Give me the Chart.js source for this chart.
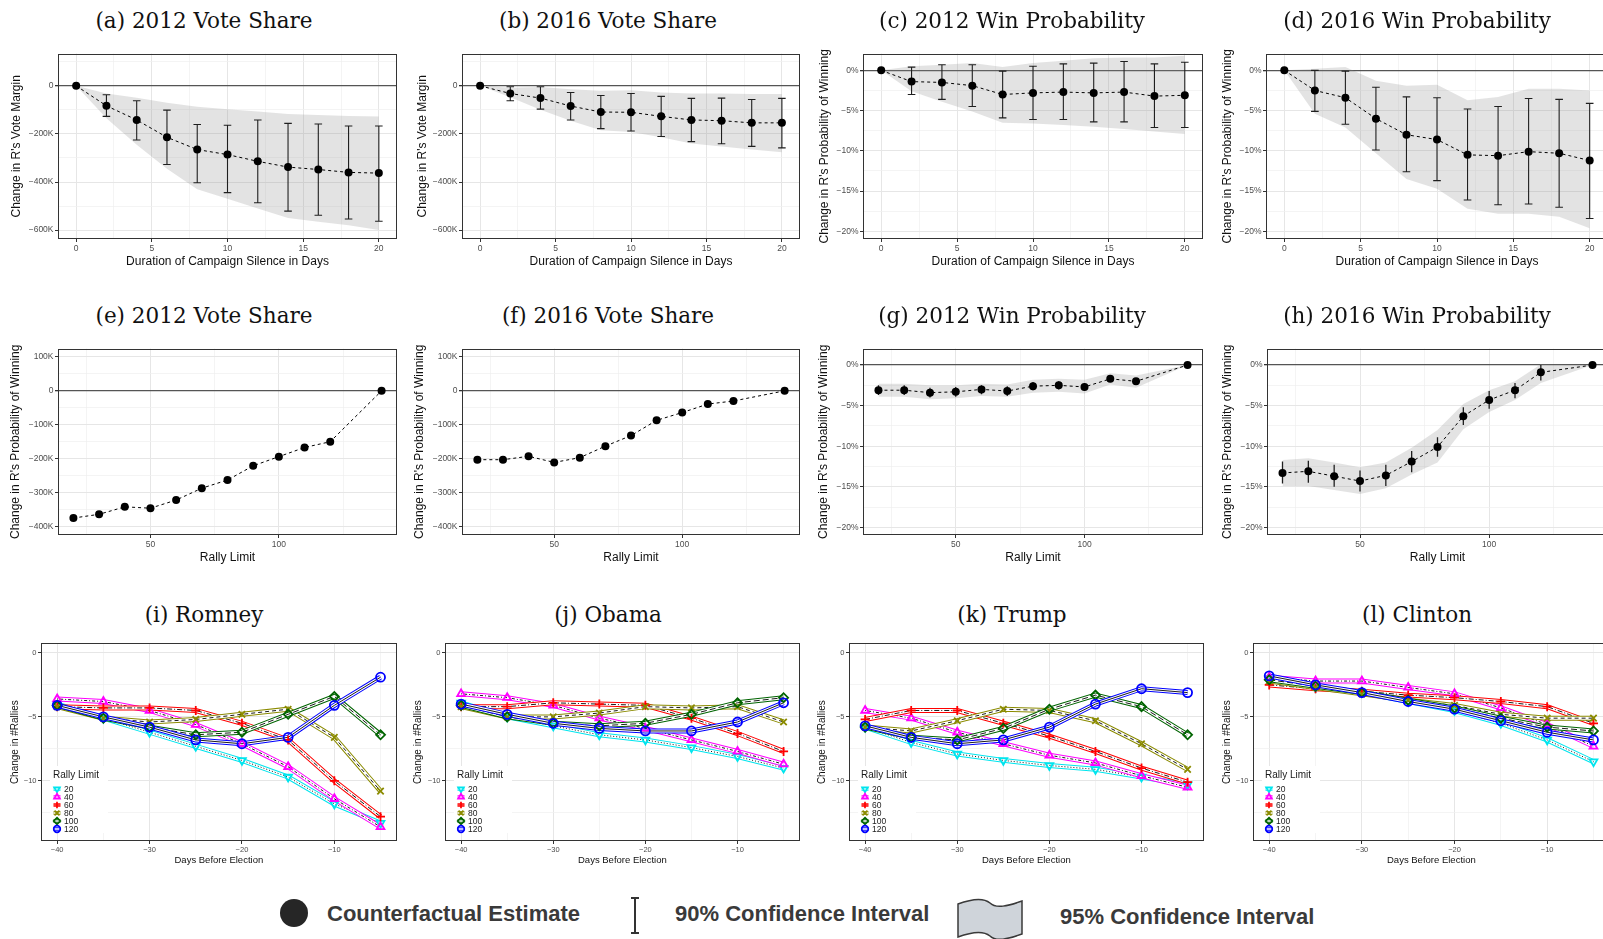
<!DOCTYPE html>
<html>
<head>
<meta charset="utf-8">
<title>Campaign silence and rally limits</title>
<script src="https://cdn.jsdelivr.net/npm/chart.js@4.4.1/dist/chart.umd.min.js"></script>
<style>
  html, body { margin: 0; padding: 0; background: #fff; }
  body { width: 1603px; height: 939px; overflow: hidden; position: relative; }
  canvas { position: absolute; }
  .ptitle { position: absolute; font-family: 'DejaVu Serif', serif; font-size: 21.5px; color: #111;
            transform: translate(-50%, -50%); white-space: nowrap; }
  .key { position: absolute; font-family: 'Liberation Sans', Arial, sans-serif; font-weight: bold;
         font-size: 22px; color: #3a3a3a; transform: translateY(-50%); white-space: nowrap; }
  svg { position: absolute; }
</style>
</head>
<body>
<div id="fig"></div>

<svg style="left:279px;top:898px" width="30" height="30"><circle cx="15" cy="15" r="14" fill="#262626"/></svg>
<span class="key" style="left:327px;top:914px">Counterfactual Estimate</span>
<svg style="left:628px;top:896px" width="14" height="40">
  <path d="M7 2 V37 M3 2 H11 M3 37 H11" stroke="#333" stroke-width="2" fill="none"/>
</svg>
<span class="key" style="left:675px;top:914px">90% Confidence Interval</span>
<svg style="left:956px;top:898px" width="68" height="42">
  <path d="M2 6 C18 0 28 0 34 5 C40 11 52 8 66 3 L66 36 C52 41 40 44 34 38 C28 33 18 33 2 39 Z"
        fill="#cfd4da" stroke="#3a3a3a" stroke-width="1.5"/>
</svg>
<span class="key" style="left:1060px;top:917px">95% Confidence Interval</span>

<script>
// ---------- data: campaign silence (rows 1) ----------
const silenceDays = [0, 2, 4, 6, 8, 10, 12, 14, 16, 18, 20];

// (a) 2012 vote margin
const vote12Silence    = [0, -83000, -142000, -214000, -265000, -286000, -314000, -338000, -348000, -360000, -363000];
const vote12Silence90Hi = [0, -37000, -62000, -101000, -161000, -164000, -142000, -156000, -159000, -167000, -167000];
const vote12Silence90Lo = [0, -127000, -225000, -327000, -403000, -444000, -486000, -521000, -538000, -554000, -563000];
const vote12Silence95Hi = [0, -32000, -50000, -70000, -87000, -97000, -107000, -117000, -121000, -125000, -128000];
const vote12Silence95Lo = [0, -135000, -245000, -345000, -430000, -470000, -510000, -550000, -565000, -580000, -600000];

// (b) 2016 vote margin
const vote16Silence    = [0, -32000, -51000, -84000, -109000, -110000, -127000, -142000, -145000, -154000, -154000];
const vote16Silence90Hi = [0, -4000, -4000, -28000, -40000, -32000, -44000, -52000, -51000, -57000, -52000];
const vote16Silence90Lo = [0, -62000, -97000, -142000, -178000, -188000, -211000, -232000, -241000, -252000, -258000];
const vote16Silence95Hi = [0, -8000, -5000, -14000, -21000, -18000, -28000, -32000, -32000, -34000, -34000];
const vote16Silence95Lo = [0, -48000, -100000, -145000, -185000, -192000, -214000, -240000, -252000, -265000, -276000];

// (c) 2012 win probability (%)
const win12Silence    = [0, -1.4, -1.5, -1.9, -3.0, -2.8, -2.7, -2.8, -2.7, -3.2, -3.1];
const win12Silence90Hi = [0, 0.4, 0.7, 0.7, -0.1, 0.5, 0.8, 0.9, 1.1, 0.8, 1.0];
const win12Silence90Lo = [0, -3.0, -3.6, -4.5, -5.9, -6.1, -6.1, -6.4, -6.4, -7.1, -7.1];
const win12Silence95Hi = [0, 0.5, 0.7, 0.9, 0.4, 0.9, 1.2, 1.5, 1.6, 1.6, 1.8];
const win12Silence95Lo = [0, -2.6, -3.9, -5.1, -6.5, -6.6, -6.8, -7.0, -7.3, -7.6, -7.9];

// (d) 2016 win probability (%)
const win16Silence    = [0, -2.5, -3.4, -6.0, -8.0, -8.6, -10.5, -10.6, -10.1, -10.3, -11.2];
const win16Silence90Hi = [0, 0.0, -0.1, -2.1, -3.3, -3.4, -4.8, -4.5, -3.5, -3.6, -4.1];
const win16Silence90Lo = [0, -5.1, -6.7, -9.9, -12.6, -13.7, -16.1, -16.7, -16.6, -17.0, -18.4];
const win16Silence95Hi = [0, 0.2, 0.4, -1.3, -1.9, -1.8, -3.7, -3.3, -2.3, -2.3, -2.5];
const win16Silence95Lo = [0, -5.4, -7.1, -10.3, -13.5, -14.7, -17.2, -17.8, -17.8, -18.2, -19.6];

// ---------- data: rally limit (row 2) ----------
const rallyLimits = [20, 30, 40, 50, 60, 70, 80, 90, 100, 110, 120, 140];
const vote12Limit = [-375000, -364000, -342000, -346000, -322000, -287000, -263000, -221000, -194000, -167000, -150000, 0];
const vote16Limit = [-203000, -203000, -193000, -211000, -197000, -163000, -132000, -87000, -64000, -39000, -30000, 0];
const win12Limit     = [-3.1, -3.1, -3.4, -3.3, -3.0, -3.2, -2.6, -2.5, -2.7, -1.7, -2.0, 0];
const win12Limit90Hi = [-2.5, -2.5, -2.8, -2.7, -2.5, -2.6, -2.1, -2.0, -2.2, -1.3, -1.6, 0];
const win12Limit90Lo = [-3.7, -3.7, -4.0, -3.9, -3.6, -3.8, -3.1, -3.0, -3.2, -2.1, -2.4, 0];
const win12Limit95Hi = [-2.3, -2.3, -2.5, -2.5, -2.3, -2.4, -1.8, -1.7, -1.8, -1.0, -1.3, 0];
const win12Limit95Lo = [-3.9, -3.9, -4.2, -4.1, -3.8, -3.9, -3.4, -3.3, -3.5, -2.4, -2.8, 0];
const win16Limit     = [-13.3, -13.1, -13.7, -14.3, -13.6, -11.9, -10.1, -6.3, -4.3, -3.1, -0.9, 0];
const win16Limit90Hi = [-11.9, -11.8, -12.3, -13.0, -12.3, -10.6, -8.9, -5.2, -3.2, -2.2, 0.0, 0];
const win16Limit90Lo = [-14.6, -14.5, -15.0, -15.6, -14.9, -13.2, -11.3, -7.4, -5.4, -4.1, -1.9, 0];
const win16Limit95Hi = [-11.7, -11.5, -12.0, -12.6, -12.0, -10.2, -8.0, -4.8, -3.1, -2.0, 0.1, 0];
const win16Limit95Lo = [-14.9, -14.9, -15.4, -15.9, -15.2, -13.5, -12.0, -7.9, -5.8, -4.3, -2.2, 0];

// ---------- data: change in #rallies (row 3), one row per rally limit ----------
const daysBefore = [-40, -35, -30, -25, -20, -15, -10, -5];
const rallyLevels = ['20', '40', '60', '80', '100', '120'];
const romneyRallies = [
  [-4.0, -5.1, -6.2, -7.3, -8.4, -9.7, -11.8, -13.3],
  [-3.6, -3.8, -4.5, -5.6, -7.1, -8.9, -11.4, -13.6],
  [-4.2, -4.3, -4.3, -4.5, -5.5, -6.8, -10.0, -12.8],
  [-4.2, -5.1, -5.4, -5.2, -4.8, -4.4, -6.6, -10.8],
  [-4.1, -5.1, -5.8, -6.4, -6.2, -4.8, -3.4, -6.4],
  [-4.1, -5.0, -5.8, -6.8, -7.1, -6.6, -4.1, -1.9]
];
const obamaRallies = [
  [-3.9, -5.0, -5.7, -6.4, -6.8, -7.4, -8.1, -9.0],
  [-3.2, -3.5, -4.1, -5.1, -5.9, -6.8, -7.7, -8.7],
  [-4.2, -4.2, -3.9, -4.0, -4.1, -5.1, -6.3, -7.7],
  [-4.2, -5.0, -5.0, -4.7, -4.2, -4.3, -4.2, -5.4],
  [-4.1, -5.0, -5.5, -5.7, -5.5, -4.8, -3.9, -3.5],
  [-4.0, -4.8, -5.5, -5.9, -6.1, -6.1, -5.4, -3.9]
];
const trumpRallies = [
  [-5.8, -7.0, -7.9, -8.4, -8.8, -9.1, -9.7, -10.3],
  [-4.5, -5.1, -6.2, -7.1, -8.0, -8.6, -9.6, -10.5],
  [-5.2, -4.5, -4.5, -5.5, -6.5, -7.7, -9.0, -10.1],
  [-5.8, -6.1, -5.3, -4.4, -4.5, -5.3, -7.1, -9.1],
  [-5.8, -6.6, -6.8, -5.9, -4.4, -3.3, -4.2, -6.4],
  [-5.7, -6.6, -7.1, -6.8, -5.8, -4.0, -2.8, -3.1]
];
const clintonRallies = [
  [-2.0, -2.7, -3.1, -3.8, -4.5, -5.5, -6.8, -8.5],
  [-1.9, -2.2, -2.2, -2.7, -3.2, -4.3, -5.6, -7.3],
  [-2.5, -2.8, -3.0, -3.3, -3.5, -3.8, -4.2, -5.5],
  [-2.2, -2.7, -3.2, -3.7, -4.1, -4.8, -5.1, -5.1],
  [-2.1, -2.6, -3.1, -3.7, -4.3, -5.1, -5.8, -6.1],
  [-1.8, -2.5, -3.1, -3.8, -4.4, -5.3, -6.2, -6.8]
];

// ---------- tick values (major ones get labels) ----------
const silenceTicks = [0, 2.5, 5, 7.5, 10, 12.5, 15, 17.5, 20];
const silenceMajor = [0, 5, 10, 15, 20];
const limitTicks = [25, 50, 75, 100, 125];
const limitMajor = [50, 100];
const dayTicks = [-40, -35, -30, -25, -20, -15, -10, -5];
const dayMajor = [-40, -30, -20, -10];
const voteTicks = [100000, 0, -100000, -200000, -300000, -400000, -500000, -600000];
const voteMajor = [0, -200000, -400000, -600000];
const limitVoteTicks = [100000, 50000, 0, -50000, -100000, -150000, -200000, -250000, -300000, -350000, -400000];
const limitVoteMajor = [100000, 0, -100000, -200000, -300000, -400000];
const pctTicks = [0, -2.5, -5, -7.5, -10, -12.5, -15, -17.5, -20];
const pctMajor = [0, -5, -10, -15, -20];
const countTicks = [0, -2.5, -5, -7.5, -10, -12.5];
const countMajor = [0, -5, -10];

// ---------- styling ----------
Chart.defaults.font.family = "'Liberation Sans', Arial, sans-serif";
const MINUS = '\u2212';
const fmtNum = v => (v < 0 ? MINUS : '') + Math.abs(v);
const fmtK = v => v === 0 ? '0' : (v < 0 ? MINUS : '') + Math.abs(v / 1000) + 'K';
const fmtPct = v => (v < 0 ? MINUS : '') + Math.abs(v) + '%';
const ribbonFill = 'rgba(140,140,140,0.24)';
const PAD = 6;

const rallySeries = [
  { color: '#00e5ee', shape: 'triangle', rot: 180, dash: [1, 2] },
  { color: '#ff00ff', shape: 'triangle', rot: 0, dash: [1, 2, 3, 2] },
  { color: '#ff0000', shape: 'cross', rot: 0, dash: [5, 2, 1, 2] },
  { color: '#8b8b00', shape: 'crossRot', rot: 0, dash: [4, 3] },
  { color: '#006400', shape: 'rectRot', rot: 0, dash: [6, 3] },
  { color: '#0000ff', shape: 'circle', rot: 0, dash: [] }
];

// frame around each panel, like ggplot's panel border
const panelFrame = {
  id: 'panelFrame',
  afterDraw(chart) {
    const { ctx, chartArea: a } = chart;
    ctx.save();
    ctx.strokeStyle = '#333';
    ctx.lineWidth = 1;
    ctx.strokeRect(Math.round(a.left) + 0.5, Math.round(a.top) + 0.5,
                   Math.round(a.right - a.left) - 1, Math.round(a.bottom - a.top) - 1);
    ctx.restore();
  }
};

function drawMarker(ctx, shape, rot, x, y, r) {
  ctx.beginPath();
  if (shape === 'circle') {
    ctx.arc(x, y, r, 0, Math.PI * 2);
  } else if (shape === 'triangle') {
    const s = rot ? -1 : 1;
    ctx.moveTo(x, y - s * r);
    ctx.lineTo(x + r * 0.87, y + s * r * 0.5);
    ctx.lineTo(x - r * 0.87, y + s * r * 0.5);
    ctx.closePath();
  } else if (shape === 'rectRot') {
    ctx.moveTo(x, y - r); ctx.lineTo(x + r, y); ctx.lineTo(x, y + r); ctx.lineTo(x - r, y); ctx.closePath();
  } else if (shape === 'cross') {
    ctx.moveTo(x - r, y); ctx.lineTo(x + r, y); ctx.moveTo(x, y - r); ctx.lineTo(x, y + r);
  } else {
    const d = r * 0.75;
    ctx.moveTo(x - d, y - d); ctx.lineTo(x + d, y + d); ctx.moveTo(x + d, y - d); ctx.lineTo(x - d, y + d);
  }
  ctx.stroke();
}

// "Rally Limit" key inside the bottom-left corner of the row-3 panels
const rallyLegend = {
  id: 'rallyLegend',
  afterDatasetsDraw(chart, args, opts) {
    if (!opts.show) return;
    const { ctx, chartArea: a } = chart;
    const left = a.left + 9, top = a.bottom - 75;
    ctx.save();
    ctx.fillStyle = '#fff';
    ctx.fillRect(left, top, 58, 67);
    ctx.fillStyle = '#1a1a1a';
    ctx.textBaseline = 'middle';
    ctx.font = "10px 'Liberation Sans', Arial, sans-serif";
    ctx.fillText('Rally Limit', a.left + 12, a.bottom - 66);
    ctx.font = "8.5px 'Liberation Sans', Arial, sans-serif";
    rallySeries.forEach((s, i) => {
      const y = a.bottom - 52 + i * 8;
      const x = a.left + 16;
      ctx.strokeStyle = s.color; ctx.lineWidth = 3.5;
      ctx.beginPath(); ctx.moveTo(x - 3.5, y); ctx.lineTo(x + 3.5, y); ctx.stroke();
      ctx.strokeStyle = '#fff'; ctx.lineWidth = 1.5;
      ctx.beginPath(); ctx.moveTo(x - 3.5, y); ctx.lineTo(x + 3.5, y); ctx.stroke();
      ctx.strokeStyle = s.color; ctx.lineWidth = 1.7;
      drawMarker(ctx, s.shape, s.rot, x, y, 3.3);
      ctx.fillStyle = '#1a1a1a';
      ctx.fillText(rallyLevels[i], a.left + 23, y + 0.5);
    });
    ctx.restore();
  }
};

Chart.register(panelFrame, rallyLegend);

// ---------- layout of the twelve panels ----------
const rows = [
  { plotTop: 53, plotBottom: 239, axisBottom: 269, titleY: 20 },
  { plotTop: 348, plotBottom: 535, axisBottom: 565, titleY: 315 },
  { plotTop: 643, plotBottom: 841, axisBottom: 866, titleY: 614 }
];
const titleCenters = [204, 608, 1012, 1417];

function makeCanvas(geo) {
  const c = document.createElement('canvas');
  const top = geo.plotTop - PAD;
  c.width = geo.plotRight - geo.cell + PAD;
  c.height = geo.axisBottom - top;
  c.style.left = geo.cell + 'px';
  c.style.top = top + 'px';
  document.getElementById('fig').appendChild(c);
  return c;
}

function addTitle(text, x, y) {
  const d = document.createElement('div');
  d.className = 'ptitle';
  d.textContent = text;
  d.style.left = x + 'px';
  d.style.top = y + 'px';
  document.body.appendChild(d);
}

function gridFor(major, zeroLine) {
  const isZero = c => zeroLine && c.tick && c.tick.value === 0;
  const isMajor = c => c.tick && major.includes(c.tick.value);
  return {
    color: c => isZero(c) ? '#555' : (isMajor(c) ? '#e6e6e6' : '#efefef'),
    lineWidth: c => isZero(c) ? 1.3 : (isMajor(c) ? 1 : 0.7),
    tickColor: c => isMajor(c) ? '#333' : 'rgba(0,0,0,0)',
    tickLength: 3,
    drawTicks: true
  };
}

function scaleOptions(axis, geo, horizontal) {
  const lh = axis.titleSize * 1.2;
  return {
    type: 'linear', min: axis.min, max: axis.max, bounds: 'data',
    afterBuildTicks: s => { s.ticks = axis.ticks.map(v => ({ value: v })); },
    afterFit: s => {
      if (horizontal) s.height = geo.axisBottom - geo.plotBottom;
      else s.width = geo.plotLeft - geo.cell;
    },
    ticks: {
      autoSkip: false, maxRotation: 0, padding: 1.5, color: '#4d4d4d',
      font: { size: axis.tickSize },
      callback: v => axis.major.includes(v) ? axis.fmt(v) : ''
    },
    grid: gridFor(axis.major, !!axis.zeroLine),
    border: { display: false },
    title: {
      display: true, text: axis.title, color: '#111', font: { size: axis.titleSize },
      padding: horizontal ? { top: 0, bottom: 0 } : { top: geo.yTitleX - geo.cell - lh / 2, bottom: 0 }
    }
  };
}

function baseOptions(geo, xAxis, yAxis, legend) {
  return {
    responsive: false, animation: false, events: [],
    layout: { padding: { top: PAD, right: PAD, left: 0, bottom: 0 } },
    plugins: { legend: { display: false }, tooltip: { enabled: false }, rallyLegend: { show: legend } },
    scales: { x: scaleOptions(xAxis, geo, true), y: scaleOptions(yAxis, geo, false) }
  };
}

function errorBarPoints(xs, hi, lo, cap) {
  const out = [];
  xs.forEach((x, i) => {
    out.push({ x, y: lo[i] }, { x, y: hi[i] }, { x, y: null });
    if (cap) {
      out.push({ x: x - cap, y: hi[i] }, { x: x + cap, y: hi[i] }, { x, y: null });
      out.push({ x: x - cap, y: lo[i] }, { x: x + cap, y: lo[i] }, { x, y: null });
    }
  });
  return out;
}

function estimatePanel(geo, xAxis, yAxis, s) {
  const pts = ys => s.x.map((x, i) => ({ x, y: ys[i] }));
  const datasets = [];
  if (s.hi95) {
    datasets.push({ data: pts(s.hi95), fill: '+1', backgroundColor: ribbonFill, borderColor: 'rgba(0,0,0,0)', borderWidth: 0, pointRadius: 0, order: 5 });
    datasets.push({ data: pts(s.lo95), fill: false, borderColor: 'rgba(0,0,0,0)', borderWidth: 0, pointRadius: 0, order: 5 });
  }
  if (s.hi90) {
    datasets.push({ data: errorBarPoints(s.x, s.hi90, s.lo90, s.cap), borderColor: '#1f1f1f', borderWidth: s.cap ? 1.1 : 1.3, pointRadius: 0, order: 3 });
  }
  datasets.push({ data: pts(s.y), borderColor: '#000', borderDash: [3, 3], borderWidth: 1, pointRadius: 4,
                  pointBackgroundColor: '#000', pointBorderWidth: 0, order: 1 });
  new Chart(makeCanvas(geo), { type: 'line', data: { datasets }, options: baseOptions(geo, xAxis, yAxis, false) });
}

function rallyPanel(geo, xAxis, yAxis, values) {
  const datasets = [];
  const pts = k => daysBefore.map((d, i) => ({ x: d, y: values[k][i] }));
  rallySeries.forEach((s, k) => {
    datasets.push({ data: pts(k), borderColor: s.color, borderWidth: 5, pointRadius: 0, order: 100 - k * 3 });
    datasets.push({ data: pts(k), borderColor: '#fff', borderWidth: 3, pointRadius: 0, order: 99 - k * 3 });
    datasets.push({ data: pts(k), borderColor: '#000', borderWidth: 0.9, borderDash: s.dash, pointRadius: 0, order: 98 - k * 3 });
    datasets.push({ data: pts(k), showLine: false, pointStyle: s.shape, pointRotation: s.rot, pointRadius: 4.5,
                    pointBorderColor: s.color, pointBackgroundColor: 'rgba(0,0,0,0)', pointBorderWidth: 1.8, order: 20 - k });
  });
  new Chart(makeCanvas(geo), { type: 'line', data: { datasets }, options: baseOptions(geo, xAxis, yAxis, true) });
}

// ---------- axes ----------
const big = { tickSize: 8.5, titleSize: 12 };
const small = { tickSize: 7.5, titleSize: 10 };
const silenceAxis = { ...big, min: -1.2, max: 21.2, ticks: silenceTicks, major: silenceMajor, fmt: fmtNum, title: 'Duration of Campaign Silence in Days' };
const limitAxis = { ...big, min: 14, max: 146, ticks: limitTicks, major: limitMajor, fmt: fmtNum, title: 'Rally Limit' };
const dayAxis = { ...small, titleSize: 9.5, min: -41.75, max: -3.25, ticks: dayTicks, major: dayMajor, fmt: fmtNum, title: 'Days Before Election' };
const voteAxis = { ...big, min: -637000, max: 134000, ticks: voteTicks, major: voteMajor, fmt: fmtK, zeroLine: true, title: "Change in R's Vote Margin" };
const winAxis = { ...big, min: -20.95, max: 2.08, ticks: pctTicks, major: pctMajor, fmt: fmtPct, zeroLine: true, title: "Change in R's Probability of Winning" };
const limitVoteAxis = { ...big, min: -425000, max: 124500, ticks: limitVoteTicks, major: limitVoteMajor, fmt: fmtK, zeroLine: true, title: "Change in R's Probability of Winning" };
const limitWinAxis = { ...big, min: -20.95, max: 2.03, ticks: pctTicks, major: pctMajor, fmt: fmtPct, zeroLine: true, title: "Change in R's Probability of Winning" };
const countAxis = { ...small, min: -14.7, max: 0.75, ticks: countTicks, major: countMajor, fmt: fmtNum, title: 'Change in #Rallies' };

const geo = (row, cell, plotLeft, plotRight, yTitleX) => ({ ...rows[row], cell, plotLeft, plotRight, yTitleX });

// row 1
estimatePanel(geo(0, 0, 58, 397, 17), silenceAxis, voteAxis,
  { x: silenceDays, y: vote12Silence, hi90: vote12Silence90Hi, lo90: vote12Silence90Lo, hi95: vote12Silence95Hi, lo95: vote12Silence95Lo, cap: 0.25 });
estimatePanel(geo(0, 400, 462, 800, 423), silenceAxis, voteAxis,
  { x: silenceDays, y: vote16Silence, hi90: vote16Silence90Hi, lo90: vote16Silence90Lo, hi95: vote16Silence95Hi, lo95: vote16Silence95Lo, cap: 0.25 });
estimatePanel(geo(0, 800, 863, 1203, 825), silenceAxis, winAxis,
  { x: silenceDays, y: win12Silence, hi90: win12Silence90Hi, lo90: win12Silence90Lo, hi95: win12Silence95Hi, lo95: win12Silence95Lo, cap: 0.25 });
estimatePanel(geo(0, 1200, 1266, 1608, 1228), silenceAxis, winAxis,
  { x: silenceDays, y: win16Silence, hi90: win16Silence90Hi, lo90: win16Silence90Lo, hi95: win16Silence95Hi, lo95: win16Silence95Lo, cap: 0.25 });

// row 2
estimatePanel(geo(1, 0, 58, 397, 16), limitAxis, limitVoteAxis, { x: rallyLimits, y: vote12Limit });
estimatePanel(geo(1, 400, 462, 800, 420), limitAxis, limitVoteAxis, { x: rallyLimits, y: vote16Limit });
estimatePanel(geo(1, 800, 863, 1203, 824), limitAxis, limitWinAxis,
  { x: rallyLimits, y: win12Limit, hi90: win12Limit90Hi, lo90: win12Limit90Lo, hi95: win12Limit95Hi, lo95: win12Limit95Lo });
estimatePanel(geo(1, 1200, 1267, 1608, 1228), limitAxis, limitWinAxis,
  { x: rallyLimits, y: win16Limit, hi90: win16Limit90Hi, lo90: win16Limit90Lo, hi95: win16Limit95Hi, lo95: win16Limit95Lo });

// row 3
rallyPanel(geo(2, 0, 41, 397, 15), dayAxis, countAxis, romneyRallies);
rallyPanel(geo(2, 400, 445, 800, 418), dayAxis, countAxis, obamaRallies);
rallyPanel(geo(2, 800, 849, 1204, 822), dayAxis, countAxis, trumpRallies);
rallyPanel(geo(2, 1200, 1253, 1610, 1227), dayAxis, countAxis, clintonRallies);

// panel captions
const captions = [
  ['(a) 2012 Vote Share', '(b) 2016 Vote Share', '(c) 2012 Win Probability', '(d) 2016 Win Probability'],
  ['(e) 2012 Vote Share', '(f) 2016 Vote Share', '(g) 2012 Win Probability', '(h) 2016 Win Probability'],
  ['(i) Romney', '(j) Obama', '(k) Trump', '(l) Clinton']
];
captions.forEach((row, r) => row.forEach((t, c) => addTitle(t, titleCenters[c], rows[r].titleY)));
</script>
</body>
</html>
